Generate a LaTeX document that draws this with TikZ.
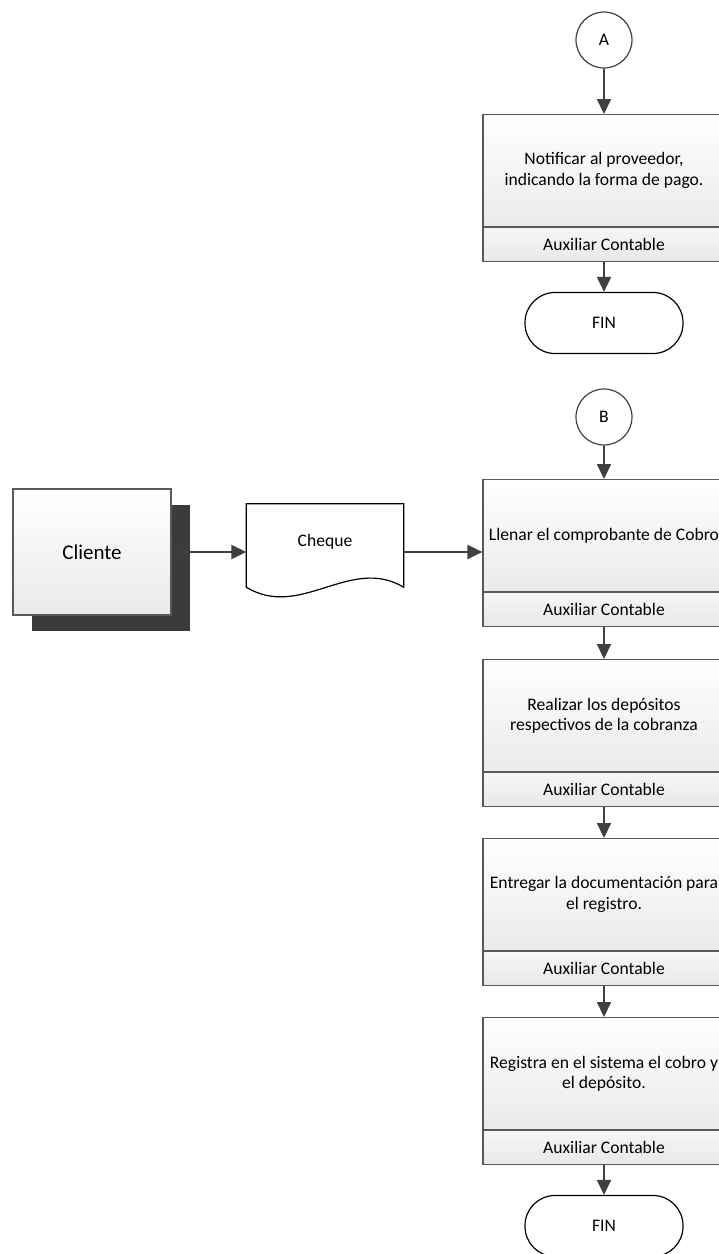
\documentclass[tikz,border=0pt]{standalone}
\usepackage{fontspec}
\setmainfont{Carlito}
\usetikzlibrary{arrows.meta,shadows}

\definecolor{edge}{HTML}{595959}
\definecolor{ink}{HTML}{404040}
\definecolor{shade}{HTML}{EAEAEA}
\definecolor{stripA}{HTML}{F6F6F6}
\definecolor{stripB}{HTML}{E8E8E8}
\definecolor{dark}{HTML}{3B3B3B}

\tikzset{
  txt/.style={font=\fontsize{17.6}{20.5}\selectfont, text=black},
  procbox/.style={txt, rectangle, draw=edge, line width=1.2pt,
    top color=white, bottom color=shade,
    minimum width=242pt, minimum height=112pt, align=center,
    anchor=north, inner sep=0pt},
  rolebox/.style={txt, rectangle, draw=edge, line width=1.2pt,
    top color=stripA, bottom color=stripB,
    minimum width=242pt, minimum height=34pt, anchor=north, inner sep=0pt},
  connector/.style={txt, circle, draw=ink, line width=1.2pt, fill=white,
    minimum size=56pt, inner sep=0pt},
  terminal/.style={txt, rectangle, rounded corners=30pt, draw=black,
    line width=1.2pt, fill=white, minimum width=158pt, minimum height=61pt},
  entity/.style={rectangle, draw=edge, line width=1.2pt,
    top color=white, bottom color=shade,
    minimum width=158pt, minimum height=126pt,
    font=\fontsize{21}{24}\selectfont,
    drop shadow={shadow xshift=19pt, shadow yshift=-16pt, fill=dark, opacity=1}},
  docframe/.style={rectangle, minimum width=157pt, minimum height=96pt, inner sep=0pt},
  docline/.style={draw=black, line width=1.2pt, fill=white},
  flow/.style={draw=ink, line width=2pt, -{Triangle[length=15pt,width=14pt]}},
}

\begin{document}
\begin{tikzpicture}[x=1pt,y=-1pt]
  \useasboundingbox (0,0) rectangle (719,1254);

  % upper branch: connector A
  \node[connector] (A) at (604,40) {A};
  \node[procbox] (p1) at (604,114) {Notificar al proveedor,\\indicando la forma de pago.};
  \node[rolebox] (p1r) at (p1.south) {Auxiliar Contable};
  \node[terminal] (fin1) at (604,323) {FIN};
  \draw[flow] (A) -- (p1);
  \draw[flow] (p1r) -- (fin1);

  % lower branch: connector B
  \node[connector] (B) at (604,417) {B};
  \node[procbox] (p2) at (604,479) {Llenar el comprobante de Cobro};
  \node[rolebox] (p2r) at (p2.south) {Auxiliar Contable};
  \node[procbox] (p3) at (604,659) {Realizar los depósitos\\respectivos de la cobranza};
  \node[rolebox] (p3r) at (p3.south) {Auxiliar Contable};
  \node[procbox] (p4) at (604,838) {Entregar la documentación para\\el registro.};
  \node[rolebox] (p4r) at (p4.south) {Auxiliar Contable};
  \node[procbox] (p5) at (604,1017) {Registra en el sistema el cobro y\\el depósito.};
  \node[rolebox] (p5r) at (p5.south) {Auxiliar Contable};
  \node[terminal] (fin2) at (604,1226) {FIN};

  \draw[flow] (B) -- (p2);
  \draw[flow] (p2r) -- (p3);
  \draw[flow] (p3r) -- (p4);
  \draw[flow] (p4r) -- (p5);
  \draw[flow] (p5r) -- (fin2);

  % external entity and document
  \node[entity] (cli) at (92,552) {Cliente};
  \node[docframe] (chq) at (325,552) {};
  \path[docline] (chq.north west) -- (chq.north east)
    -- ([yshift=13pt]chq.south east)
    .. controls ([xshift=104pt,yshift=45pt]chq.south west)
       and ([xshift=54pt,yshift=-20pt]chq.south west)
    .. ([yshift=13pt]chq.south west) -- cycle;
  \node[txt] (chqlabel) at ([yshift=10pt]chq.center) {Cheque};

  \draw[flow] (cli) -- (chq);
  \draw[flow] (chq.east) -- (chq.east -| p2.west);
\end{tikzpicture}
\end{document}
